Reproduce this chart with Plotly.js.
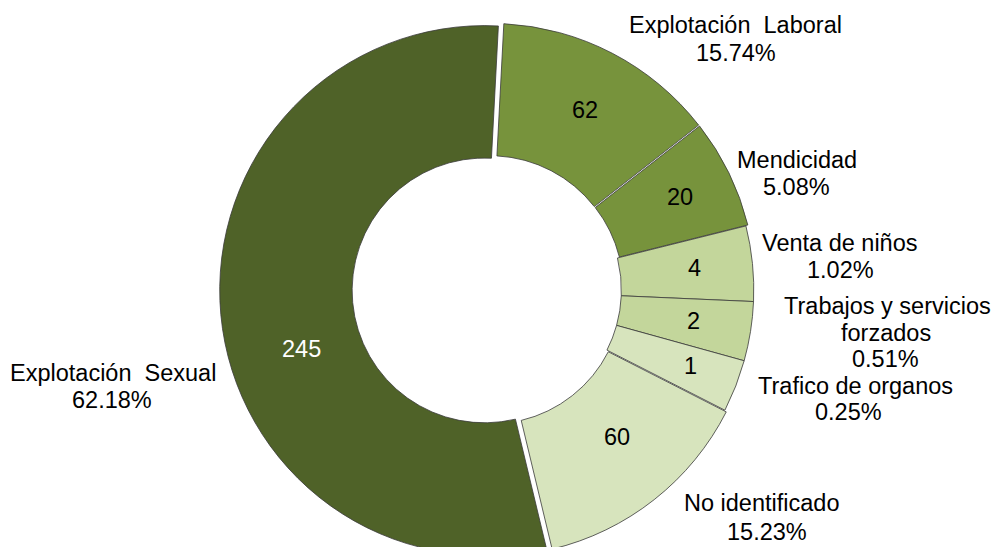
<!DOCTYPE html>
<html>
<head>
<meta charset="utf-8">
<script src="https://cdn.plot.ly/plotly-3.0.1.min.js"></script>
<style>
html,body{margin:0;padding:0;overflow:hidden;background:#fff;}
#chart{width:1000px;height:580px;}
</style>
</head>
<body>
<div id="chart"></div>
<script>
// Categories, clockwise from 12 o'clock
const categories = ["Explotación Laboral","Mendicidad","Venta de niños","Trabajos y servicios forzados","Trafico de organos","No identificado","Explotación Sexual"];
// Counts printed inside the slices
const counts = [62, 20, 4, 2, 1, 60, 245];
// Percent labels printed outside
const percentLabels = ["15.74%","5.08%","1.02%","0.51%","0.25%","15.23%","62.18%"];
// Angular size of each slice as drawn in the picture (degrees)
const sliceShares = [49, 24, 16.5, 13, 11.5, 49.5, 196.5];
// Outside label lines (name lines as broken in the picture)
const nameLines = [["Explotación  Laboral"],["Mendicidad"],["Venta de niños"],["Trabajos y servicios","forzados"],["Trafico de organos"],["No identificado"],["Explotación  Sexual"]];

const colors = ["#77933C","#77933C","#C3D69B","#C3D69B","#D7E4BD","#D7E4BD","#4F6228"];
const textColors = ["#000","#000","#000","#000","#000","#000","#fff"];
const pulls = [0.008, 0.008, 0, 0, 0, 0.008, 0.017];

const W = 1000, H = 580;
const FONT = 'Liberation Sans, Arial, sans-serif';
const FS = 23.5;
// layout: centres (pixels) of each outside label line, and of the counts
const nameLinePos = [[[735,25]],[[797,159.5]],[[840,242.5]],[[887.5,306],[886,333]],[[855,385.5]],[[761.5,503]],[[112.5,373]]];
const pctPos = [[735.5,52.5],[796.5,187],[840,269.7],[885,359],[848,412],[767,531.5],[112,400]];
const countPos = [[585,110],[680,197],[694,268],[693,321],[690,366],[617,437],[301,349]];

function ann(text, px, py, color){
  return {xref:'paper', yref:'paper', x:px/W, y:1-py/H,
    xanchor:'center', yanchor:'middle', align:'center', showarrow:false,
    text:text, font:{family:FONT, size:FS, color:color||'#000'}};
}
const annotations = [];
categories.forEach((c,i)=>{
  nameLines[i].forEach((t,j)=>annotations.push(ann(t, nameLinePos[i][j][0], nameLinePos[i][j][1])));
  annotations.push(ann(percentLabels[i], pctPos[i][0], pctPos[i][1]));
  annotations.push(ann(String(counts[i]), countPos[i][0], countPos[i][1], textColors[i]));
});

const trace = {
  type:'pie',
  labels: categories,
  values: sliceShares,
  customdata: counts,
  textinfo: 'none',
  sort: false,
  direction: 'clockwise',
  rotation: 3,
  hole: 0.5,
  pull: pulls,
  marker: {colors: colors, line:{color:'#3a3a3a', width:0.8}},
  domain: {x:[0.2197, 0.7583], y:[0,1]},
  hoverinfo: 'none',
  showlegend: false
};

Plotly.newPlot('chart', [trace], {
  width: W, height: H,
  margin:{l:0,r:0,t:0,b:0},
  paper_bgcolor:'#fff',
  showlegend:false,
  annotations: annotations
}, {displayModeBar:false, staticPlot:true});
</script>
</body>
</html>
